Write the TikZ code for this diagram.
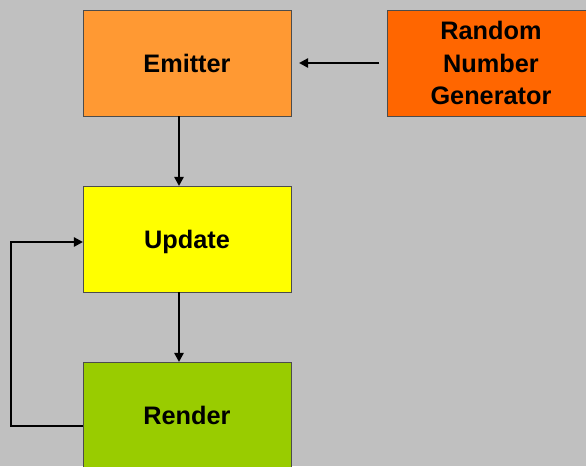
\documentclass[tikz,border=0pt]{standalone}
\usepackage{fontspec}
\setmainfont{Liberation Sans}
\usepackage{tikz}
\usetikzlibrary{arrows.meta,positioning}
\definecolor{bggray}{RGB}{192, 192, 192}
\definecolor{emitterfill}{RGB}{255, 153, 51}
\definecolor{randfill}{RGB}{255, 102, 0}
\definecolor{updatefill}{RGB}{255, 255, 0}
\definecolor{renderfill}{RGB}{153, 204, 0}
\tikzset{
  stagebox/.style={
    draw=black!70,
    line width=0.6pt,
    minimum width=5.2cm,
    minimum height=2.65cm,
    align=center,
    inner sep=0pt,
    outer sep=0pt,
    font=\fontsize{18}{22.8}\selectfont\bfseries
  },
  oneline/.style={text height=0.45cm, text depth=0pt},
  flow/.style={
    -{Triangle[length=2.3mm,width=2.3mm]},
    line width=1.7pt
  }
}

\begin{document}
\begin{tikzpicture}
\useasboundingbox (0,0) rectangle (14.65,-11.65);
\fill[bggray] (0,0) rectangle (14.65,-11.65);
\clip (0,0) rectangle (14.65,-11.65);
\node[stagebox,oneline,fill=emitterfill] (emitter) at (4.675,-1.575) {Emitter};
\node[stagebox,fill=randfill,right=2.4cm of emitter] (rng) {Random\\Number\\Generator};
\node[stagebox,oneline,fill=updatefill,below=1.75cm of emitter] (update) {Update};
\node[stagebox,oneline,fill=renderfill,below=1.75cm of update] (render) {Render};

\draw[flow,shorten <=0.2cm,shorten >=0.2cm] (rng.west) -- (emitter.east);
\draw[flow] ([xshift=-0.2cm]emitter.south) -- ([xshift=-0.2cm]update.north);
\draw[flow] ([xshift=-0.2cm]update.south) -- ([xshift=-0.2cm]render.north);
\draw[flow] ([yshift=-0.275cm]render.west) -- ++(-1.8,0) |- ([yshift=-0.075cm]update.west);
\end{tikzpicture}
\end{document}
